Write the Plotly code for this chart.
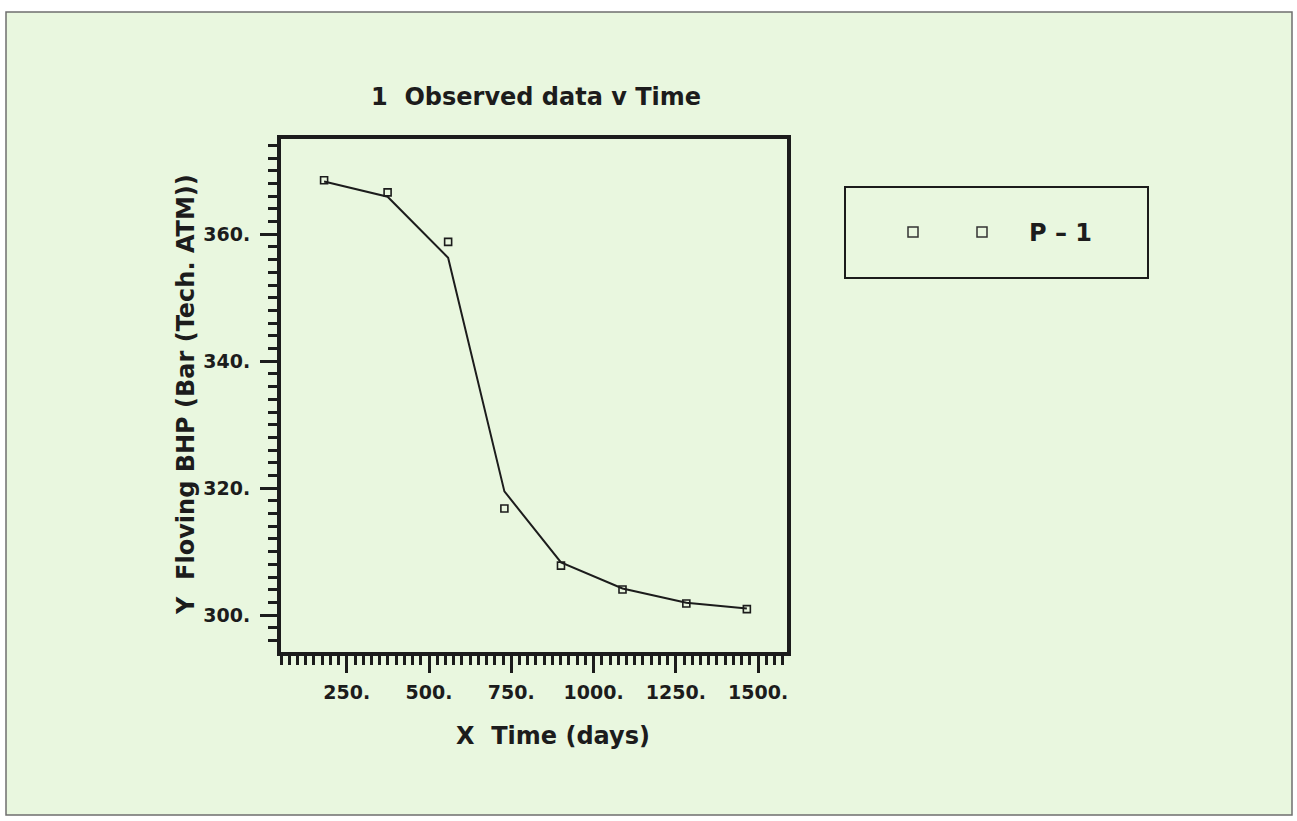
import plotly.graph_objects as go

# ---- data ----
time_days = [181, 374, 558, 729, 901, 1088, 1282, 1466]
observed_bhp = [368.5, 366.6, 358.8, 316.8, 307.8, 304.05, 301.85, 300.95]
simulated_bhp = [368.3, 365.9, 356.3, 319.5, 308.3, 304.2, 301.95, 301.05]
x_tick_vals = [250, 500, 750, 1000, 1250, 1500]
x_tick_text = ["250.", "500.", "750.", "1000.", "1250.", "1500."]
y_tick_vals = [300, 320, 340, 360]
y_tick_text = ["300.", "320.", "340.", "360."]
series_name = "P \u2013 1"

W, H = 1297, 821
L, R, T, B = 281, 787, 139, 652  # plot area in pixels
PW, PH = R - L, B - T

def px(xp):
    return (xp - L) / PW

def py(yp):
    return (B - yp) / PH

INK = "#1c1c1c"
BG = "#e9f7df"
FONT = "DejaVu Sans"

fig = go.Figure()
fig.add_trace(go.Scatter(
    x=time_days, y=simulated_bhp, mode="lines",
    line=dict(color=INK, width=2), showlegend=False, hoverinfo="skip"))
fig.add_trace(go.Scatter(
    x=time_days, y=observed_bhp, mode="markers",
    marker=dict(symbol="square-open", size=7, color=INK, line=dict(width=1.6, color=INK)),
    showlegend=False, name=series_name))

axis_common = dict(
    showline=True, linecolor=INK, linewidth=4, mirror=True,
    showgrid=False, zeroline=False, ticks="outside", tickcolor=INK,
    tickwidth=2.5, ticklen=17, tickmode="array",
    tickfont=dict(family=FONT, size=19, color=INK, weight="bold"),
)

fig.update_layout(
    width=W, height=H,
    margin=dict(l=L, r=W - R, t=T, b=H - B, pad=0),
    paper_bgcolor="white", plot_bgcolor=BG,
    font=dict(family=FONT, color=INK),
    showlegend=False,
    xaxis=dict(
        range=[50, 1588], tickvals=x_tick_vals, ticktext=x_tick_text,
        ticklabelstandoff=3,
        minor=dict(dtick=25, tick0=0, ticks="outside", ticklen=9, tickwidth=2.5, tickcolor=INK),
        **axis_common),
    yaxis=dict(
        range=[294.2, 375], tickvals=y_tick_vals, ticktext=y_tick_text,
        ticklabelstandoff=6,
        minor=dict(dtick=2, tick0=0, ticks="outside", ticklen=9, tickwidth=2.5, tickcolor=INK),
        **axis_common),
)

# outer framed light-green panel
fig.add_shape(type="rect", xref="paper", yref="paper", layer="below",
              x0=px(6), x1=px(1292), y0=py(815), y1=py(12),
              line=dict(color="#6f6f6f", width=1.5), fillcolor=BG)

# title and axis titles
fig.add_annotation(xref="paper", yref="paper", x=px(536), y=py(97),
                   text="1  Observed data v Time", showarrow=False,
                   font=dict(family=FONT, size=24, color=INK, weight="bold"),
                   xanchor="center", yanchor="middle")
fig.add_annotation(xref="paper", yref="paper", x=px(553), y=py(736),
                   text="X  Time (days)", showarrow=False,
                   font=dict(family=FONT, size=24, color=INK, weight="bold"),
                   xanchor="center", yanchor="middle")
fig.add_annotation(xref="paper", yref="paper", x=px(186), y=py(395),
                   text="Y  Floving BHP (Bar (Tech. ATM))", showarrow=False, textangle=-90,
                   font=dict(family=FONT, size=24, color=INK, weight="bold"),
                   xanchor="center", yanchor="middle")

# legend box
fig.add_shape(type="rect", xref="paper", yref="paper",
              x0=px(845), x1=px(1148), y0=py(278), y1=py(187),
              line=dict(color=INK, width=2), fillcolor="rgba(0,0,0,0)")
for cx in (913, 982):
    fig.add_shape(type="rect", xref="paper", yref="paper",
                  x0=px(cx - 5), x1=px(cx + 5), y0=py(237), y1=py(227),
                  line=dict(color="#333333", width=1.5), fillcolor="rgba(0,0,0,0)")
fig.add_annotation(xref="paper", yref="paper", x=px(1027), y=py(233),
                   text=series_name, showarrow=False,
                   font=dict(family=FONT, size=24, color=INK, weight="bold"),
                   xanchor="left", yanchor="middle")

fig.write_html("out.html")
